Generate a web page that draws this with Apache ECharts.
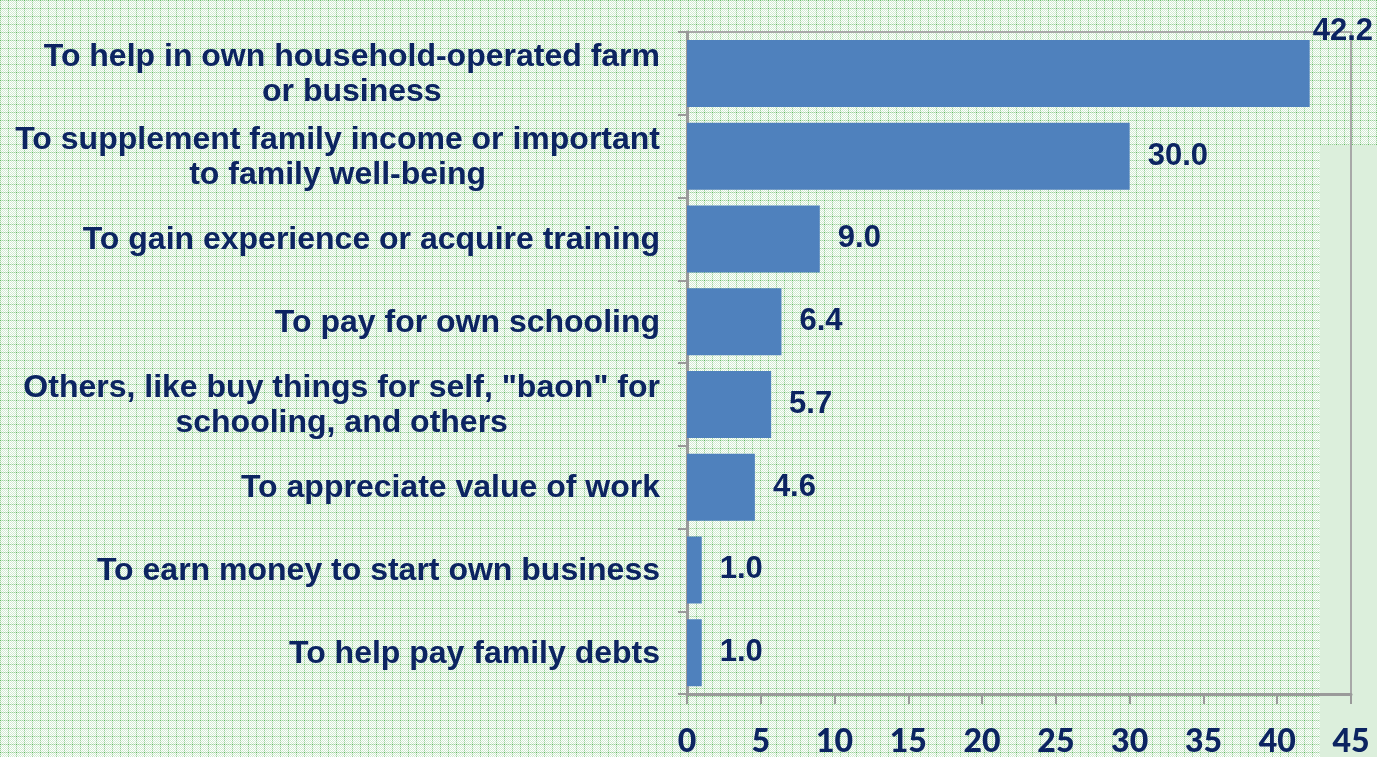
<!DOCTYPE html>
<html>
<head>
<meta charset="utf-8">
<script src="https://cdn.jsdelivr.net/npm/echarts@6/dist/echarts.min.js"></script>
<style>
  html, body { margin: 0; padding: 0; }
  #chart { width: 1377px; height: 757px; }
</style>
</head>
<body>
<div id="chart"></div>
<script>
// reasons for working, percent
const categories = [
  'To help in own household-operated farm\nor business',
  'To supplement family income or important\nto family well-being',
  'To gain experience or acquire training',
  'To pay for own schooling',
  'Others, like buy things for self, "baon" for\nschooling, and others',
  'To appreciate value of work',
  'To earn money to start own business',
  'To help pay family debts'
];
const values = [42.2, 30.0, 9.0, 6.4, 5.7, 4.6, 1.0, 1.0];
const xTicks = [0, 5, 10, 15, 20, 25, 30, 35, 40, 45];

const navy = '#0c2461';
const axisGray = '#9a9a9a';

// green checker background like the slide
function makePattern() {
  const c = document.createElement('canvas');
  c.width = 8; c.height = 8;
  const ctx = c.getContext('2d');
  for (let y = 0; y < 8; y++) {
    for (let x = 0; x < 8; x++) {
      let col = (x + y) % 2 ? '#ffffff' : '#d2ecd2';
      if (x === 0 || y === 0) col = (x + y) % 2 ? '#dff1df' : '#9bd29b';
      if (x === 0 && y === 0) col = '#5fb55f';
      ctx.fillStyle = col;
      ctx.fillRect(x, y, 1, 1);
    }
  }
  return c;
}

const chart = echarts.init(document.getElementById('chart'));

const seriesData = values.map((v, i) => {
  if (i === 0) {
    return { value: v, label: { distance: 3, offset: [0, -42] } };
  }
  return v;
});

const option = {
  backgroundColor: { image: makePattern(), repeat: 'repeat' },
  animation: false,
  graphic: [{
    type: 'rect',
    z: -1,
    shape: { x: 1320, y: 145, width: 57, height: 612 },
    style: { fill: '#dcefdc' }
  }],
  grid: {
    left: 687, right: 26, top: 32, bottom: 63,
    outerBoundsMode: 'none',
    show: true,
    backgroundColor: 'transparent',
    borderColor: '#a8a8a8',
    borderWidth: 2
  },
  xAxis: {
    type: 'value',
    min: 0, max: 45, interval: 5,
    axisLine: { show: true, lineStyle: { color: axisGray, width: 3 } },
    axisTick: { show: true, length: 10, lineStyle: { color: axisGray, width: 2 } },
    splitLine: { show: false },
    axisLabel: {
      margin: 32,
      color: navy,
      fontFamily: 'Lato',
      fontWeight: 900,
      fontSize: 32,
      formatter: v => xTicks.includes(v) ? String(v) : ''
    }
  },
  yAxis: {
    type: 'category',
    inverse: true,
    data: categories,
    axisLine: { show: true, lineStyle: { color: axisGray, width: 3 } },
    axisTick: { show: true, length: 9, lineStyle: { color: axisGray, width: 2 } },
    axisLabel: {
      margin: 27,
      formatter: s => s.split('\n').map(l => '{c|' + l + '}').join('\n'),
      rich: {
        c: {
          align: 'center',
          color: navy,
          fontFamily: 'Liberation Sans, Arial',
          fontWeight: 'bold',
          fontSize: 32,
          lineHeight: 35,
          padding: [3, 0, 0, 0]
        }
      }
    }
  },
  series: [{
    type: 'bar',
    data: seriesData,
    barWidth: 67,
    itemStyle: { color: '#4f81bd' },
    label: {
      show: true,
      position: 'right',
      distance: 18,
      color: navy,
      fontFamily: 'Liberation Sans, Arial',
      fontWeight: 'bold',
      fontSize: 31,
      padding: [4, 0, 0, 0],
      formatter: p => p.value.toFixed(1)
    }
  }]
};

chart.setOption(option);
</script>
</body>
</html>
